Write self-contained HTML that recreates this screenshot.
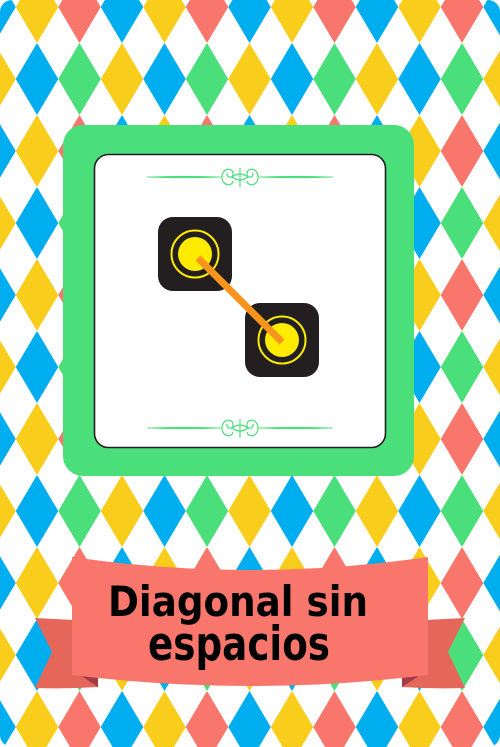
<!DOCTYPE html>
<html><head><meta charset="utf-8"><style>
html,body{margin:0;padding:0;background:#fff;}
svg{display:block;}
</style></head><body>
<svg width="500" height="747" viewBox="0 0 500 747" xmlns="http://www.w3.org/2000/svg">
<defs><clipPath id="cardclip"><rect x="0" y="0" width="500" height="747" rx="12"/></clipPath></defs>
<g id="bg" clip-path="url(#cardclip)"></g>
<rect x="63" y="125" width="351" height="351" rx="20" fill="#4ADF7A"/>
<rect x="94.5" y="154.5" width="291" height="293" rx="14" fill="#fff" stroke="#231f20" stroke-width="1.6"/>
<g stroke="#4ADF7A" fill="none">
<path d="M147 177 Q185 175.5 222 177 Q185 178.5 147 177Z" fill="#4ADF7A" stroke-width="0.8"/>
<path d="M258 177 Q295 175.5 333 177 Q295 178.5 258 177Z" fill="#4ADF7A" stroke-width="0.8"/>
<path d="M222 177 C222 168 232 167 233 173 C234 179 226 178 227 173 M258 177 C258 168 248 167 247 173 C246 179 254 178 253 173 M222 177 C222 186 232 187 233 181 M258 177 C258 186 248 187 247 181 M240 168 L240 187 M232 177 Q240 171 248 177 Q240 183 232 177" stroke-width="1.2"/>
</g>
<g stroke="#4ADF7A" fill="none">
<path d="M147 428 Q185 426.5 222 428 Q185 429.5 147 428Z" fill="#4ADF7A" stroke-width="0.8"/>
<path d="M258 428 Q295 426.5 333 428 Q295 429.5 258 428Z" fill="#4ADF7A" stroke-width="0.8"/>
<path d="M222 428 C222 419 232 418 233 424 C234 430 226 429 227 424 M258 428 C258 419 248 418 247 424 C246 430 254 429 253 424 M222 428 C222 437 232 438 233 432 M258 428 C258 437 248 438 247 432 M240 419 L240 438 M232 428 Q240 422 248 428 Q240 434 232 428" stroke-width="1.2"/>
</g>
<g>
<rect x="158" y="217" width="74" height="74" rx="15" fill="#231f20"/>
<circle cx="195" cy="254" r="23.5" fill="none" stroke="#FFEB00" stroke-width="2"/>
<circle cx="195" cy="254" r="17" fill="#FFEB00"/>
</g>
<g>
<rect x="245" y="303" width="74" height="74" rx="15" fill="#231f20"/>
<circle cx="282" cy="340" r="23.5" fill="none" stroke="#FFEB00" stroke-width="2"/>
<circle cx="282" cy="340" r="17" fill="#FFEB00"/>
</g>
<line x1="198" y1="258" x2="282" y2="342" stroke="#F7941D" stroke-width="7"/>
<g>
<path d="M35 618 Q55 619 74 620 L98 622 L98 687 Q66 689 35 688 L52 652 Z" fill="#E5675A"/>
<path d="M465 618 Q445 619 426 620 L402 622 L402 687 Q434 689 465 688 L448 652 Z" fill="#E5675A"/>
<path d="M72 670 L98 678 L98 687 Z" fill="#A33C47"/>
<path d="M428 670 L402 678 L402 687 Z" fill="#A33C47"/>
<path d="M72 557 Q250 583 428 557 L428 675 Q250 697 72 675 Z" fill="#F8766C"/>
<text x="238" y="616" text-anchor="middle" font-family="DejaVu Sans, sans-serif" font-weight="bold" font-size="42" textLength="260" lengthAdjust="spacingAndGlyphs" fill="#000">Diagonal sin</text>
<text x="239" y="660" text-anchor="middle" font-family="DejaVu Sans, sans-serif" font-weight="bold" font-size="47" textLength="182" lengthAdjust="spacingAndGlyphs" fill="#000">espacios</text>
</g>
</svg>
<script>
const rowPatternA = ['#00AEEF','#F8CD1C','#F8766C'];
const rowPatternB = ['#F8CD1C','#00AEEF','#4ADF7A'];
const g = document.getElementById('bg');
const NS = 'http://www.w3.org/2000/svg';
for (let r = 0; r < 11; r++) {
  const cy = 7 + r * 72;
  const pat = r % 2 === 0 ? rowPatternA : rowPatternB;
  for (let c = 0; c < 13; c++) {
    const cx = -5.5 + c * 42.5;
    const p = document.createElementNS(NS, 'polygon');
    p.setAttribute('points', `${cx},${cy-36} ${cx+21.25},${cy} ${cx},${cy+36} ${cx-21.25},${cy}`);
    p.setAttribute('fill', pat[c % 3]);
    
    
    g.appendChild(p);
  }
}
</script>
</body></html>
